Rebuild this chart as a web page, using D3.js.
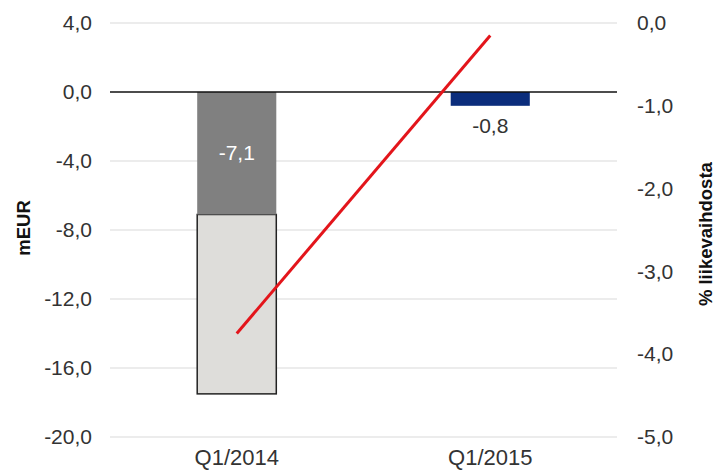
<!DOCTYPE html>
<html>
<head>
<meta charset="utf-8">
<script src="https://cdn.jsdelivr.net/npm/d3@7"></script>
<style>
  body { margin: 0; background: #fff; }
  text { font-family: "Liberation Sans", Arial, sans-serif; }
</style>
</head>
<body>
<svg id="chart"></svg>
<script>
// data
var categories = ["Q1/2014", "Q1/2015"];
var mainValues = [-7.1, -0.8];      // labelled bar segment (mEUR)
var extraValues = [-10.4, 0];       // light grey segment stacked below
var pctValues = [-3.75, -0.15];     // red line, % liikevaihdosta
var leftTicks = [4, 0, -4, -8, -12, -16, -20];
var rightTicks = [0, -1, -2, -3, -4, -5];

var mainColors = ["#808080", "#0b2d7c"];

var W = 717, H = 476;
var margin = { top: 23, right: 100, bottom: 39, left: 110 };
var width = W - margin.left - margin.right;
var height = H - margin.top - margin.bottom;

var fmt = function (d) { return d3.format(".1f")(d).replace(".", ",").replace("−", "-"); };

var svg = d3.select("svg#chart")
  .attr("width", W)
  .attr("height", H);

var g = svg.append("g")
  .attr("transform", "translate(" + margin.left + "," + margin.top + ")");

var x = d3.scaleBand()
  .domain(categories)
  .range([0, width])
  .paddingInner(0.688)
  .paddingOuter(0.344);
var y = d3.scaleLinear()
  .domain([-20, 4])
  .range([height, 0]);
var y2 = d3.scaleLinear()
  .domain([-5, 0])
  .range([height, 0]);

// gridlines
g.selectAll(".grid")
  .data(leftTicks.filter(function (d) { return d !== 0; }))
  .enter().append("line")
  .attr("x1", 0)
  .attr("x2", width)
  .attr("y1", function (d) { return y(d); })
  .attr("y2", function (d) { return y(d); })
  .attr("stroke", "#d9d9d9")
  .attr("stroke-width", 1.2);

// left axis
var yAxis = g.append("g")
  .call(d3.axisLeft(y).tickValues(leftTicks).tickFormat(fmt).tickSize(0).tickPadding(18));
yAxis.select(".domain").remove();
yAxis.selectAll("text")
  .style("font-size", "21px")
  .attr("fill", "#333");

// right axis
var yAxis2 = g.append("g")
  .attr("transform", "translate(" + width + ",0)")
  .call(d3.axisRight(y2).tickValues(rightTicks).tickFormat(fmt).tickSize(0).tickPadding(20));
yAxis2.select(".domain").remove();
yAxis2.selectAll("text")
  .style("font-size", "21px")
  .attr("fill", "#333");

// x axis labels
var xAxis = g.append("g")
  .attr("transform", "translate(0," + height + ")")
  .call(d3.axisBottom(x).tickSize(0).tickPadding(12));
xAxis.select(".domain").remove();
xAxis.selectAll("text")
  .style("font-size", "22px")
  .attr("fill", "#333");

// light grey stacked segment
g.selectAll(".extra")
  .data(categories.filter(function (c, i) { return extraValues[i] !== 0; }))
  .enter().append("rect")
  .attr("x", function (d) { return x(d); })
  .attr("width", x.bandwidth())
  .attr("y", function (d) { var i = categories.indexOf(d); return y(mainValues[i]); })
  .attr("height", function (d) {
    var i = categories.indexOf(d);
    return y(mainValues[i] + extraValues[i]) - y(mainValues[i]);
  })
  .attr("fill", "#deddda")
  .attr("stroke", "#222")
  .attr("stroke-width", 1.5);

// main segment
g.selectAll(".bar")
  .data(categories)
  .enter().append("rect")
  .attr("class", "bar")
  .attr("x", function (d) { return x(d); })
  .attr("width", x.bandwidth())
  .attr("y", y(0))
  .attr("height", function (d, i) { return y(mainValues[i]) - y(0); })
  .attr("fill", function (d, i) { return mainColors[i]; });

// zero line
g.append("line")
  .attr("x1", 0)
  .attr("x2", width)
  .attr("y1", y(0))
  .attr("y2", y(0))
  .attr("stroke", "#111")
  .attr("stroke-width", 1.3);

// bar labels
g.selectAll(".lbl")
  .data(categories)
  .enter().append("text")
  .attr("x", function (d) { return x(d) + x.bandwidth() / 2; })
  .attr("y", function (d, i) {
    var v = mainValues[i];
    var inside = y(v) - y(0) > 40;
    return inside ? (y(0) + y(v)) / 2 + 7 : y(v) + 27;
  })
  .attr("text-anchor", "middle")
  .style("font-size", "21px")
  .attr("fill", function (d, i) { return y(mainValues[i]) - y(0) > 40 ? "#fff" : "#333"; })
  .text(function (d, i) { return fmt(mainValues[i]); });

// red line on right axis
var line = d3.line()
  .x(function (d, i) { return x(categories[i]) + x.bandwidth() / 2; })
  .y(function (d) { return y2(d); });
g.append("path")
  .datum(pctValues)
  .attr("d", line)
  .attr("fill", "none")
  .attr("stroke", "#e3151b")
  .attr("stroke-width", 3);

// axis titles
svg.append("text")
  .attr("transform", "translate(30," + (margin.top + y(-8) - 2) + ") rotate(-90)")
  .attr("text-anchor", "middle")
  .style("font-size", "18.5px")
  .style("font-weight", "bold")
  .attr("fill", "#111")
  .text("mEUR");

svg.append("text")
  .attr("transform", "translate(712," + (margin.top + y2(-2.55)) + ") rotate(-90)")
  .attr("text-anchor", "middle")
  .style("font-size", "18.5px")
  .style("font-weight", "bold")
  .attr("fill", "#111")
  .text("% liikevaihdosta");
</script>
</body>
</html>
